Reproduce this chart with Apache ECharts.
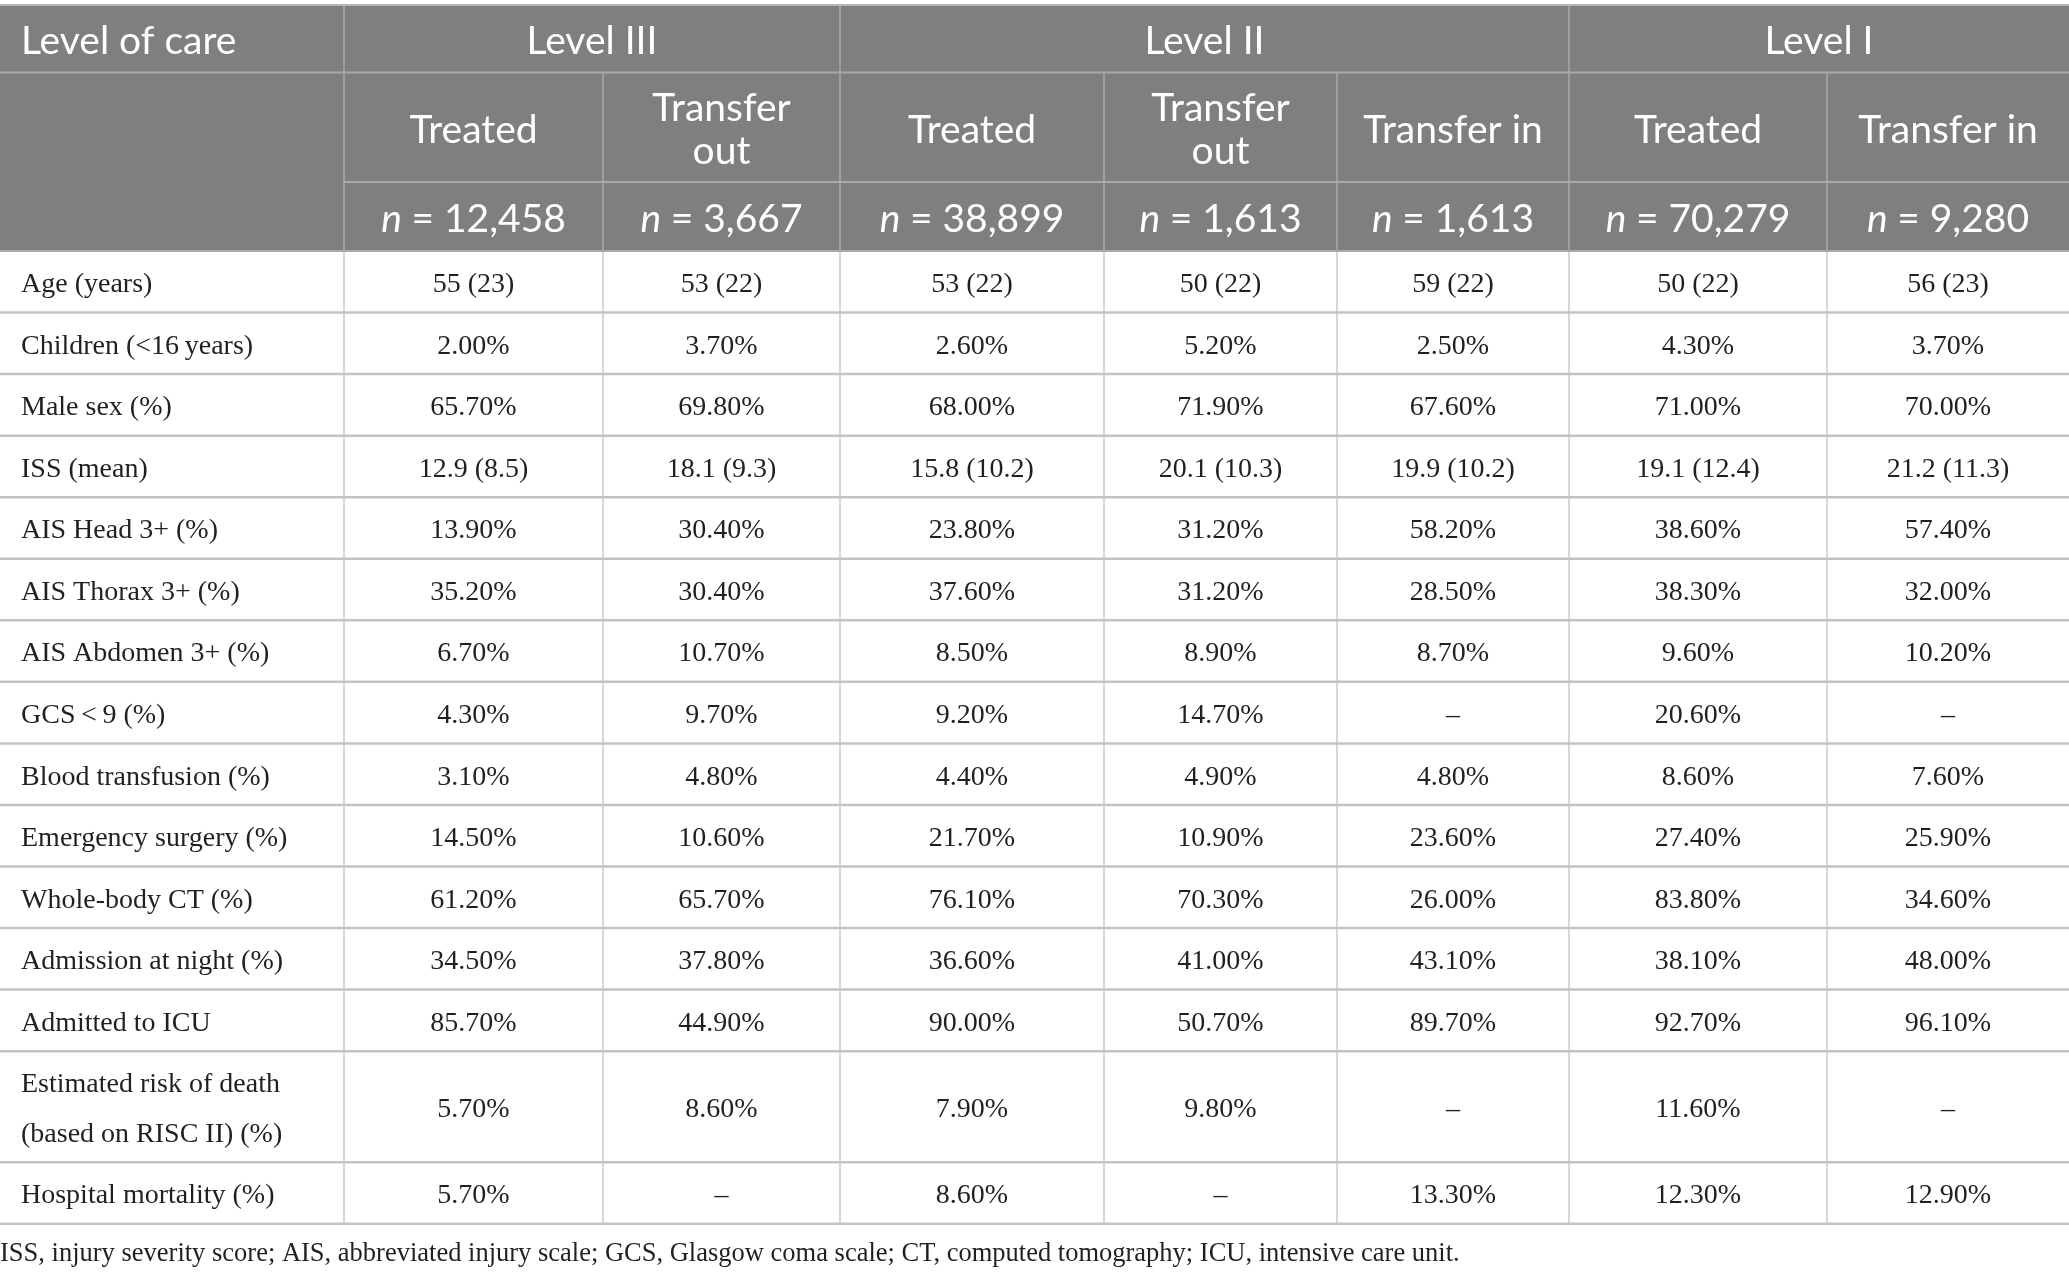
<!DOCTYPE html>
<html>
<head>
<meta charset="utf-8">
<script src="https://cdn.jsdelivr.net/npm/echarts@6/dist/echarts.min.js"></script>
<style>
    html, body { margin: 0; padding: 0; background: #fff; }
    #chart { width: 2069px; height: 1274px; }
</style>
</head>
<body>
<div id="chart"></div>
<script>
// ---- table content ----
const stubTitle = 'Level of care';
const levelGroups = ['Level III', 'Level II', 'Level I'];
const groupSpans = [2, 3, 2];
const subHeaders = ['Treated', 'Transfer\nout', 'Treated', 'Transfer\nout', 'Transfer in', 'Treated', 'Transfer in'];
const groupSizes = ['12,458', '3,667', '38,899', '1,613', '1,613', '70,279', '9,280'];

const rowLabels = [
    'Age (years)',
    'Children (<16\u2009years)',
    'Male sex (%)',
    'ISS (mean)',
    'AIS Head 3+ (%)',
    'AIS Thorax 3+ (%)',
    'AIS Abdomen 3+ (%)',
    'GCS\u2009<\u20099 (%)',
    'Blood transfusion (%)',
    'Emergency surgery (%)',
    'Whole-body CT (%)',
    'Admission at night (%)',
    'Admitted to ICU',
    'Estimated risk of death\n(based on RISC II) (%)',
    'Hospital mortality (%)'
];

const level3Treated = ['55 (23)', '2.00%', '65.70%', '12.9 (8.5)', '13.90%', '35.20%', '6.70%', '4.30%', '3.10%', '14.50%', '61.20%', '34.50%', '85.70%', '5.70%', '5.70%'];
const level3Out = ['53 (22)', '3.70%', '69.80%', '18.1 (9.3)', '30.40%', '30.40%', '10.70%', '9.70%', '4.80%', '10.60%', '65.70%', '37.80%', '44.90%', '8.60%', '\u2013'];
const level2Treated = ['53 (22)', '2.60%', '68.00%', '15.8 (10.2)', '23.80%', '37.60%', '8.50%', '9.20%', '4.40%', '21.70%', '76.10%', '36.60%', '90.00%', '7.90%', '8.60%'];
const level2Out = ['50 (22)', '5.20%', '71.90%', '20.1 (10.3)', '31.20%', '31.20%', '8.90%', '14.70%', '4.90%', '10.90%', '70.30%', '41.00%', '50.70%', '9.80%', '\u2013'];
const level2In = ['59 (22)', '2.50%', '67.60%', '19.9 (10.2)', '58.20%', '28.50%', '8.70%', '\u2013', '4.80%', '23.60%', '26.00%', '43.10%', '89.70%', '\u2013', '13.30%'];
const level1Treated = ['50 (22)', '4.30%', '71.00%', '19.1 (12.4)', '38.60%', '38.30%', '9.60%', '20.60%', '8.60%', '27.40%', '83.80%', '38.10%', '92.70%', '11.60%', '12.30%'];
const level1In = ['56 (23)', '3.70%', '70.00%', '21.2 (11.3)', '57.40%', '32.00%', '10.20%', '\u2013', '7.60%', '25.90%', '34.60%', '48.00%', '96.10%', '\u2013', '12.90%'];

const footnote = 'ISS, injury severity score; AIS, abbreviated injury scale; GCS, Glasgow coma scale; CT, computed tomography; ICU, intensive care unit.';

// ---- layout ----
const colWidths = [344, 259, 237, 264, 233, 232, 258, 242];
const tableTop = 5;
const headerHeights = [67.5, 109.5, 69];
const singleRow = 61.55;
const doubleRow = 111;

const HEAD_BG = '#7f7f7f';
const HEAD_LINE = '#a9a9a9';
const BODY_LINE = '#c3c3c3';
const TEXT = '#231f20';
const SANS = 'Lato, "Noto Sans", sans-serif';
const SERIF = '"Liberation Serif", "DejaVu Serif", serif';

let colEdges = [0];
colWidths.forEach(function (w) { colEdges.push(colEdges[colEdges.length - 1] + w); });

let rowHeights = headerHeights.concat(rowLabels.map(function (l) {
    return l.indexOf('\n') >= 0 ? doubleRow : singleRow;
}));
let rowEdges = [tableTop];
rowHeights.forEach(function (h) { rowEdges.push(rowEdges[rowEdges.length - 1] + h); });

// ---- build cells ----
let valueColumns = [level3Treated, level3Out, level2Treated, level2Out, level2In, level1Treated, level1In];
let cells = [];

cells.push({ c: 0, r: 0, cs: 1, rs: 1, text: stubTitle, kind: 'stub' });
cells.push({ c: 0, r: 1, cs: 1, rs: 2, text: '', kind: 'head' });
let col = 1;
levelGroups.forEach(function (g, i) {
    cells.push({ c: col, r: 0, cs: groupSpans[i], rs: 1, text: g, kind: 'head' });
    col += groupSpans[i];
});
subHeaders.forEach(function (s, i) {
    cells.push({ c: i + 1, r: 1, cs: 1, rs: 1, text: s, kind: 'head' });
    cells.push({ c: i + 1, r: 2, cs: 1, rs: 1, text: '{i|n}\u2005=\u2005' + groupSizes[i], kind: 'headN' });
});
rowLabels.forEach(function (label, j) {
    cells.push({ c: 0, r: j + 3, cs: 1, rs: 1, text: label, kind: 'label' });
    valueColumns.forEach(function (vals, i) {
        cells.push({ c: i + 1, r: j + 3, cs: 1, rs: 1, text: vals[j], kind: 'value' });
    });
});

function renderCell(params, api) {
    let c = api.value(0), r = api.value(1), cs = api.value(2), rs = api.value(3);
    let cell = cells[params.dataIndex];
    let p0 = api.coord([colEdges[c], rowEdges[r]]);
    let p1 = api.coord([colEdges[c + cs], rowEdges[r + rs]]);
    let x = p0[0], y = p0[1], w = p1[0] - p0[0], h = p1[1] - p0[1];
    let isHead = r < 3;
    let lineColor = isHead ? HEAD_LINE : BODY_LINE;
    let children = [];

    children.push({
        type: 'rect',
        shape: { x: x, y: y, width: w, height: h },
        style: { fill: isHead ? HEAD_BG : '#ffffff' }
    });
    // bottom border
    children.push({
        type: 'line',
        shape: { x1: x, y1: y + h, x2: x + w, y2: y + h },
        style: { stroke: lineColor, lineWidth: isHead ? 2 : 2.5 },
        z2: 5
    });
    // right border
    if (c + cs < colWidths.length) {
        children.push({
            type: 'line',
            shape: { x1: x + w, y1: y, x2: x + w, y2: y + h },
            style: { stroke: lineColor, lineWidth: isHead ? 1.5 : 1.3 },
            z2: 4
        });
    }
    if (r === 0) {
        children.push({
            type: 'line',
            shape: { x1: x, y1: y, x2: x + w, y2: y },
            style: { stroke: '#b5b5b5', lineWidth: 2 },
            z2: 5
        });
    }

    let left = cell.kind === 'stub' || cell.kind === 'label';
    let textStyle = {
        text: cell.text,
        x: left ? x + 21 : x + w / 2,
        y: y + h / 2 + 3,
        align: left ? 'left' : 'center',
        verticalAlign: 'middle'
    };
    if (isHead) {
        textStyle.fill = '#ffffff';
        textStyle.fontFamily = SANS;
        textStyle.fontSize = 39;
        textStyle.lineHeight = 43;
        if (cell.kind === 'headN') {
            textStyle.rich = {
                i: { fontStyle: 'italic', fontFamily: SANS, fontSize: 39, fill: '#ffffff' }
            };
        }
    } else {
        textStyle.fill = TEXT;
        textStyle.fontFamily = SERIF;
        textStyle.fontSize = 28;
        textStyle.lineHeight = 50;
    }
    children.push({ type: 'text', style: textStyle, z2: 10 });

    return { type: 'group', children: children };
}

let chart = echarts.init(document.getElementById('chart'));
chart.setOption({
    animation: false,
    backgroundColor: '#ffffff',
    title: {
        text: footnote,
        left: 0,
        top: 1241,
        padding: 0,
        textStyle: {
            fontFamily: SERIF,
            fontSize: 26.5,
            fontWeight: 'normal',
            color: TEXT
        }
    },
    grid: { left: 0, right: 0, top: 0, bottom: 0 },
    xAxis: { type: 'value', min: 0, max: 2069, show: false },
    yAxis: { type: 'value', min: 0, max: 1274, inverse: true, show: false },
    series: [{
        type: 'custom',
        coordinateSystem: 'cartesian2d',
        renderItem: renderCell,
        clip: false,
        data: cells.map(function (d) { return [d.c, d.r, d.cs, d.rs]; })
    }]
});
</script>
</body>
</html>
